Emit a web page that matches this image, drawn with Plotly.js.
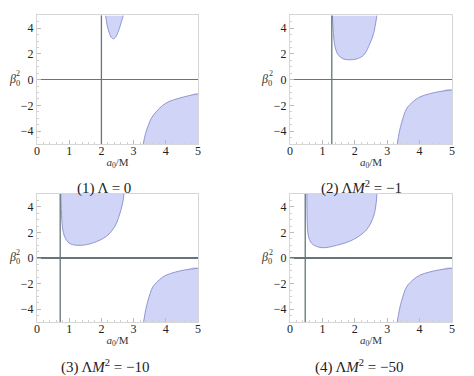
<!DOCTYPE html>
<html><head><meta charset="utf-8">
<script src="https://cdn.plot.ly/plotly-3.0.1.min.js"></script>
<style>html,body{margin:0;padding:0;background:#fff}#chart{width:474px;height:376px}</style>
</head><body><div id="chart"></div>
<script>
// Panel captions
const captions = ["(1) Λ = 0", "(2) Λ<i>M</i><sup>2</sup> = −1", "(3) Λ<i>M</i><sup>2</sup> = −10", "(4) Λ<i>M</i><sup>2</sup> = −50"];
// Vertical line positions (a0/M)
const vLines = [2.0, 1.29, 0.72, 0.47];
// Upper region boundaries
const upX1 = [2.13, 2.16, 2.20, 2.25, 2.30, 2.37, 2.44, 2.50, 2.56, 2.62, 2.68];
const upY1 = [5.0, 4.5, 4.0, 3.6, 3.3, 3.18, 3.3, 3.6, 4.0, 4.5, 5.0];
const upX2 = [1.31, 1.34, 1.39, 1.49, 1.65, 1.86, 2.06, 2.27, 2.47, 2.58, 2.66, 2.68];
const upY2 = [5.0, 3.6, 2.57, 1.92, 1.62, 1.55, 1.62, 1.9, 2.83, 3.6, 4.65, 5.0];
const upX3 = [0.74, 0.77, 0.82, 0.90, 1.03, 1.34, 1.75, 2.16, 2.42, 2.58, 2.68, 2.70];
const upY3 = [5.0, 3.0, 1.97, 1.45, 1.12, 0.99, 1.19, 1.71, 2.49, 3.53, 4.57, 5.0];
const upX4 = [0.52, 0.53, 0.55, 0.60, 0.70, 0.98, 1.44, 1.96, 2.37, 2.58, 2.66, 2.68];
const upY4 = [5.0, 3.0, 2.0, 1.45, 1.07, 0.81, 0.99, 1.45, 2.23, 3.27, 4.31, 5.0];
// Lower region boundaries
const loX1 = [3.30, 3.37, 3.45, 3.55, 3.70, 3.90, 4.10, 4.40, 4.70, 5.0];
const loY1 = [-5.0, -4.2, -3.6, -3.0, -2.5, -2.0, -1.7, -1.45, -1.25, -1.1];
const loX = [3.31, 3.38, 3.45, 3.60, 3.80, 4.00, 4.30, 4.60, 5.0];
const loY = [-5.0, -4.0, -3.3, -2.25, -1.7, -1.35, -1.1, -0.93, -0.8];
const xTicks = [0, 1, 2, 3, 4, 5];
const yTicks = [-4, -2, 0, 2, 4];
const yTickText = ["−4", "−2", "0", "2", "4"];

const upper = [[upX1, upY1], [upX2, upY2], [upX3, upY3], [upX4, upY4]];
const lower = [[loX1, loY1], [loX, loY], [loX, loY], [loX, loY]];
const xRange = [0, 5], yRange = [-5, 5];

const fillCol = "rgba(208,212,246,1)";
const edgeCol = "#9096d2";
const traces = [];
const layout = {
  width: 474, height: 376, margin: {l: 0, r: 0, t: 0, b: 0},
  paper_bgcolor: "#fff", plot_bgcolor: "#fff", showlegend: false,
  font: {family: "Liberation Serif, serif", color: "#333", size: 12},
  shapes: [], annotations: []
};
const xDom = [[0.0781, 0.4177], [0.6118, 0.9536], [0.0781, 0.4177], [0.6118, 0.9536]];
const yDom = [[0.617, 0.959], [0.617, 0.959], [0.1436, 0.484], [0.1436, 0.484]];
const capPos = [[104, 188], [361, 187], [105, 366], [359, 366]];
const serif = "Liberation Serif, serif";

for (let i = 0; i < 4; i++) {
  const sfx = i === 0 ? "" : String(i + 1);
  const xa = "x" + sfx, ya = "y" + sfx;
  const [ux, uy] = upper[i];
  const [lx, ly] = lower[i];
  traces.push({x: ux, y: uy, xaxis: xa, yaxis: ya, mode: "lines", fill: "toself",
    fillcolor: fillCol, line: {width: 0, color: fillCol, shape: "spline"}, hoverinfo: "skip"});
  traces.push({x: ux, y: uy, xaxis: xa, yaxis: ya, mode: "lines",
    line: {width: 1, color: edgeCol, shape: "spline"}, hoverinfo: "skip"});
  traces.push({x: lx.concat([xRange[1]]), y: ly.concat([yRange[0]]), xaxis: xa, yaxis: ya,
    mode: "lines", fill: "toself", fillcolor: fillCol, line: {width: 0, color: fillCol, shape: "spline"}, hoverinfo: "skip"});
  traces.push({x: lx, y: ly, xaxis: xa, yaxis: ya, mode: "lines",
    line: {width: 1, color: edgeCol, shape: "spline"}, hoverinfo: "skip"});

  const axCommon = {
    showgrid: false, showline: true, mirror: true, linecolor: "#d6d6d6", linewidth: 1,
    ticks: "inside", ticklen: 4, tickcolor: "#bbb", tickwidth: 1,
    tickfont: {family: serif, size: 12, color: "#222"}
  };
  layout["xaxis" + sfx] = Object.assign({}, axCommon, {
    domain: xDom[i], anchor: ya, range: xRange, zeroline: false,
    tickmode: "array", tickvals: xTicks, ticktext: xTicks.map(String),
    ticklabelstandoff: -4,
    minor: {ticks: "inside", ticklen: 2, tickcolor: "#d0d0d0", dtick: 0.2},
    title: {text: "<i>a</i><sub>0</sub>/M", font: {family: serif, size: 11, color: "#333"}, standoff: 0}
  });
  layout["yaxis" + sfx] = Object.assign({}, axCommon, {
    domain: yDom[i], anchor: xa, range: yRange,
    zeroline: true, zerolinecolor: "#65757a", zerolinewidth: 1.3,
    tickmode: "array", tickvals: yTicks, ticktext: yTickText,
    minor: {ticks: "inside", ticklen: 2, tickcolor: "#d0d0d0", dtick: 0.5}
  });
  layout.shapes.push({type: "line", xref: xa, yref: ya + " domain", x0: vLines[i], x1: vLines[i], y0: 0, y1: 1,
    line: {color: "#65757a", width: 1.3}});
  // y-axis label (horizontal): β with subscript 0 and stacked superscript 2
  const yMid = (yDom[i][0] + yDom[i][1]) / 2;
  const xl = xDom[i][0] - 23 / 474;
  layout.annotations.push({xref: "paper", yref: "paper", x: xl, y: yMid, xanchor: "center", yanchor: "middle",
    text: "<i>β</i><sub>0</sub>", showarrow: false,
    font: {family: serif, size: 12, color: "#333"}});
  layout.annotations.push({xref: "paper", yref: "paper", x: xl + 4 / 474, y: yMid + 6 / 376, xanchor: "center", yanchor: "middle",
    text: "2", showarrow: false,
    font: {family: serif, size: 8, color: "#333"}});
  layout.annotations.push({xref: "paper", yref: "paper", x: capPos[i][0] / 474, y: 1 - capPos[i][1] / 376,
    xanchor: "center", yanchor: "middle", text: captions[i], showarrow: false,
    font: {family: serif, size: 15, color: "#222"}});
}

Plotly.newPlot("chart", traces, layout, {staticPlot: true, displayModeBar: false});
</script></body></html>
